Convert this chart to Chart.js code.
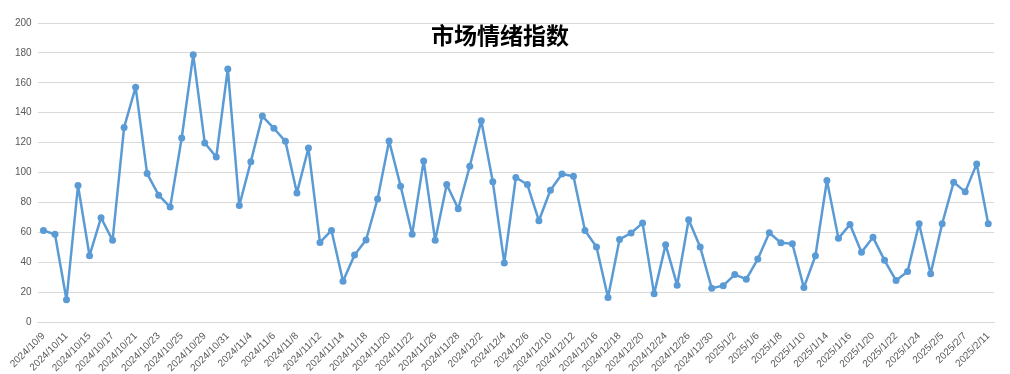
<!DOCTYPE html>
<html>
<head>
<meta charset="utf-8">
<script src="https://cdn.jsdelivr.net/npm/chart.js@4/dist/chart.umd.min.js"></script>
<style>
  html, body { margin: 0; padding: 0; background: #fff; }
  #wrap { width: 1010px; height: 374px; position: relative; }
</style>
</head>
<body>
<div id="wrap"><canvas id="myChart"></canvas></div>
<script>
var dates = [
    '2024/10/9', '2024/10/10', '2024/10/11', '2024/10/14', '2024/10/15', '2024/10/16', '2024/10/17', '2024/10/18',
    '2024/10/21', '2024/10/22', '2024/10/23', '2024/10/24', '2024/10/25', '2024/10/28', '2024/10/29', '2024/10/30',
    '2024/10/31', '2024/11/1', '2024/11/4', '2024/11/5', '2024/11/6', '2024/11/7', '2024/11/8', '2024/11/11',
    '2024/11/12', '2024/11/13', '2024/11/14', '2024/11/15', '2024/11/18', '2024/11/19', '2024/11/20', '2024/11/21',
    '2024/11/22', '2024/11/25', '2024/11/26', '2024/11/27', '2024/11/28', '2024/11/29', '2024/12/2', '2024/12/3',
    '2024/12/4', '2024/12/5', '2024/12/6', '2024/12/9', '2024/12/10', '2024/12/11', '2024/12/12', '2024/12/13',
    '2024/12/16', '2024/12/17', '2024/12/18', '2024/12/19', '2024/12/20', '2024/12/23', '2024/12/24', '2024/12/25',
    '2024/12/26', '2024/12/27', '2024/12/30', '2024/12/31', '2025/1/2', '2025/1/3', '2025/1/6', '2025/1/7',
    '2025/1/8', '2025/1/9', '2025/1/10', '2025/1/13', '2025/1/14', '2025/1/15', '2025/1/16', '2025/1/17',
    '2025/1/20', '2025/1/21', '2025/1/22', '2025/1/23', '2025/1/24', '2025/1/27', '2025/2/5', '2025/2/6',
    '2025/2/7', '2025/2/10', '2025/2/11'
];

var sentiment = [
    61.3, 58.7, 14.9, 91.3, 44.4, 69.8, 54.7, 130.2,
    157.1, 99.3, 84.9, 76.9, 123.1, 178.7, 119.8, 110.4,
    169.3, 78, 107.3, 137.8, 129.6, 120.9, 86.4, 116.4,
    53.3, 61.3, 27.3, 44.9, 54.9, 82.4, 121.1, 90.9,
    58.7, 107.8, 54.7, 92, 75.8, 104.2, 134.7, 93.8,
    39.6, 96.7, 92, 67.8, 88.2, 99.1, 97.6, 61.3,
    50.2, 16.4, 55.3, 59.6, 66.2, 18.9, 51.8, 24.7,
    68.4, 50.2, 22.7, 24.4, 31.8, 28.7, 42.2, 59.8,
    53.1, 52.4, 23.1, 44.4, 94.7, 56, 65.3, 46.7,
    56.7, 41.3, 27.8, 33.8, 65.8, 32.4, 65.8, 93.6,
    87.1, 105.8, 65.8
];

var chartTitle = '市场情绪指数';

// title sits inside the plot area, like the original
var titleOverlay = {
    id: 'titleOverlay',
    afterDraw: function (chart) {
        var c = chart.ctx;
        c.save();
        c.font = 'bold 23px "Noto Sans CJK SC"';
        c.fillStyle = '#000';
        c.textAlign = 'center';
        c.textBaseline = 'middle';
        c.fillText(chartTitle, 500, 35);
        c.restore();
    }
};

var ctx = document.getElementById('myChart').getContext('2d');
var myChart = new Chart(ctx, {
    type: 'line',
    data: {
        labels: dates,
        datasets: [{
            label: chartTitle,
            data: sentiment,
            borderColor: '#5b9bd5',
            backgroundColor: '#5b9bd5',
            borderWidth: 2.5,
            borderJoinStyle: 'round',
            borderCapStyle: 'round',
            pointRadius: 3.5,
            pointBorderWidth: 0,
            tension: 0
        }]
    },
    options: {
        responsive: true,
        maintainAspectRatio: false,
        animation: false,
        layout: {
            padding: { top: 23, right: 16, left: 9, bottom: 0 }
        },
        plugins: {
            legend: { display: false },
            title: { display: false },
            tooltip: { enabled: false }
        },
        scales: {
            x: {
                offset: true,
                grid: { display: false },
                border: { color: '#d9d9d9' },
                ticks: {
                    autoSkip: false,
                    maxRotation: 45,
                    minRotation: 45,
                    padding: 0,
                    color: '#595959',
                    font: { family: 'Liberation Sans', size: 10 },
                    callback: function (val, i) {
                        return i % 2 === 0 ? this.getLabelForValue(val) : null;
                    }
                }
            },
            y: {
                min: 0,
                max: 200,
                ticks: {
                    stepSize: 20,
                    padding: 6,
                    color: '#595959',
                    font: { family: 'Liberation Sans', size: 10 }
                },
                grid: { color: '#d9d9d9', drawTicks: false },
                border: { display: false }
            }
        }
    },
    plugins: [titleOverlay]
});
</script>
</body>
</html>
